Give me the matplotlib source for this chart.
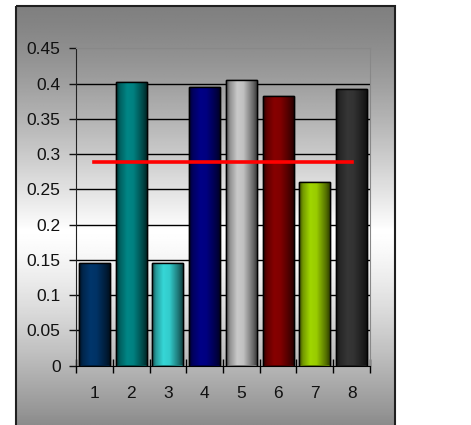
import numpy as np
import matplotlib
matplotlib.use("Agg")
import matplotlib.pyplot as plt
from matplotlib.colors import to_rgb
from matplotlib.patches import Rectangle

plt.rcParams['font.family'] = ['Liberation Sans', 'DejaVu Sans']

categories = ['1', '2', '3', '4', '5', '6', '7', '8']
values = [0.146, 0.402, 0.146, 0.395, 0.405, 0.383, 0.260, 0.392]
average = [0.289] * 8
bar_colors = ['#003366', '#008080', '#33CCCC', '#000080',
              '#C0C0C0', '#800000', '#99CC00', '#333333']

fig = plt.figure(figsize=(4.71, 4.25), dpi=100)

# background frame with vertical grey-white-grey gradient
bg = fig.add_axes([0, 0, 1, 1], zorder=0)
bg.set_xlim(0, 471)
bg.set_ylim(425, 0)
bg.axis('off')
yy = np.linspace(0, 1, 300)
white_at = 0.535
shade = np.where(yy < white_at,
                 128 + (255 - 128) * (yy / white_at) ** 1.3,
                 255 - (255 - 140) * ((yy - white_at) / (1 - white_at)) ** 1.3) / 255
grad = np.repeat(shade[:, None], 2, axis=1)
bg.imshow(grad, cmap='gray', vmin=0, vmax=1, aspect='auto',
          extent=[16, 395, 425, 6], interpolation='bilinear')
bg.add_patch(Rectangle((16, 6), 379, 425, fill=False, ec='#202020', lw=1.5))

ax = fig.add_axes([76 / 471, 59.5 / 425, 294 / 471, 317.2 / 425], zorder=1)
ax.patch.set_alpha(0)

x = np.arange(1, 9)
bars = ax.bar(x, values, width=0.85, color=bar_colors, edgecolor='black',
              linewidth=1.0, zorder=3)

# cylinder-like horizontal shading on each bar
t = np.linspace(0, 1, 100)
profile = np.interp(t, [0, 0.12, 0.35, 0.55, 0.85, 1.0],
                    [0.35, 0.75, 1.05, 1.0, 0.55, 0.25])
for b, c in zip(bars, bar_colors):
    rgb = np.array(to_rgb(c))
    img = np.clip(profile[:, None] * rgb[None, :], 0, 1)
    img = img[None, :, :]
    bx, by = b.get_x(), b.get_y()
    im = ax.imshow(img, aspect='auto', extent=[bx, bx + b.get_width(), by, by + b.get_height()],
                   zorder=3.5, interpolation='bilinear')
    im.set_clip_path(b)
    ax.add_patch(Rectangle((bx, by), b.get_width(), b.get_height(), fill=False,
                           ec='black', lw=1.0, zorder=4))

ax.plot(x, average, color='red', lw=2.6, zorder=5)

ax.set_xlim(0.5, 8.5)
ax.set_ylim(0, 0.45)
ax.set_yticks(np.arange(0, 0.451, 0.05))
ax.set_yticklabels(['0', '0.05', '0.1', '0.15', '0.2', '0.25', '0.3', '0.35', '0.4', '0.45'])
ax.set_xticks(x)
ax.set_xticklabels(categories)
ax.set_xticks(np.arange(0.5, 8.6, 1), minor=True)
ax.tick_params(axis='x', which='major', length=0, pad=15, labelsize=12.5, colors='#111111')
ax.tick_params(axis='x', which='minor', direction='inout', length=10, width=1)
ax.tick_params(axis='y', length=5, width=1, pad=6, labelsize=12.5, colors='#111111')

for yv in np.arange(0.05, 0.41, 0.05):
    ax.axhline(yv, color='black', lw=1, zorder=1)

ax.spines['top'].set_color('#888888')
ax.spines['right'].set_color('#888888')
ax.spines['left'].set_color('#222222')
ax.spines['bottom'].set_color('black')
ax.spines['bottom'].set_zorder(6)

fig.savefig('out.png', dpi=100)
